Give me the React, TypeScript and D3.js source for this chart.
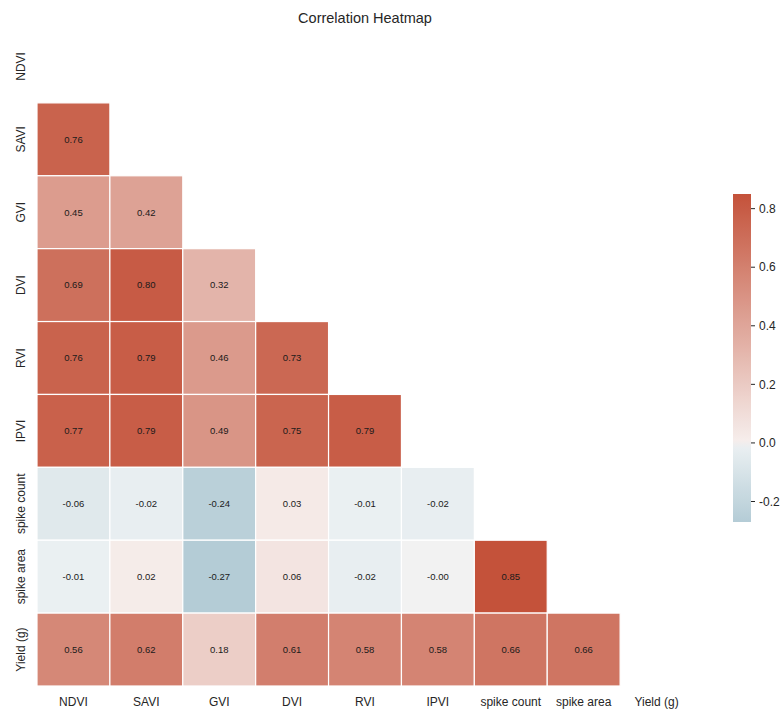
import React from "react";
import * as d3 from "d3";

// Variables of the correlation matrix (rows and columns share the same order)
const variables = ["NDVI", "SAVI", "GVI", "DVI", "RVI", "IPVI", "spike count", "spike area", "Yield (g)"];

// Lower-triangle correlations, one array per row (row i holds columns 0..i-1)
const rowNDVI: number[] = [];
const rowSAVI = [0.76];
const rowGVI = [0.45, 0.42];
const rowDVI = [0.69, 0.80, 0.32];
const rowRVI = [0.76, 0.79, 0.46, 0.73];
const rowIPVI = [0.77, 0.79, 0.49, 0.75, 0.79];
const rowSpikeCount = [-0.06, -0.02, -0.24, 0.03, -0.01, -0.02];
const rowSpikeArea = [-0.01, 0.02, -0.27, 0.06, -0.02, -0.00, 0.85];
const rowYield = [0.56, 0.62, 0.18, 0.61, 0.58, 0.58, 0.66, 0.66];

const rows = [rowNDVI, rowSAVI, rowGVI, rowDVI, rowRVI, rowIPVI, rowSpikeCount, rowSpikeArea, rowYield];

const colorbarTicks = [-0.2, 0.0, 0.2, 0.4, 0.6, 0.8];

const title = "Correlation Heatmap";

// two-decimal label that keeps the sign of negative zero
function fmt(v: number): string {
  const neg = v < 0 || Object.is(v, -0);
  return (neg ? "-" : "") + Math.abs(v).toFixed(2);
}

export default function App() {
  const width = 784;
  const height = 711;
  const gridLeft = 37;
  const gridTop = 30;
  const gridSize = 656;

  const band = d3.scaleBand<string>().domain(variables).range([0, gridSize]).paddingInner(0);

  const cells = rows.flatMap((vals, i) =>
    vals.map((v, j) => ({ row: variables[i], col: variables[j], value: v }))
  );

  const allVals = cells.map((c) => c.value);
  const vmin = d3.min(allVals) as number;
  const vmax = d3.max(allVals) as number;
  const vrange = Math.max(vmax, -vmin);

  // diverging palette centred at zero: blue → light gray → red
  const eps = vrange * 0.008;
  const color = d3
    .scaleLinear<string>()
    .domain([-vrange, -eps, 0, eps, vrange])
    .range(["#3b7d99", "#ebf0f2", "#f2f2f2", "#f6eeec", "#c4523a"])
    .interpolate(d3.interpolateRgb)
    .clamp(true);

  // colorbar
  const cbX = 733;
  const cbW = 18;
  const cbTop = 194;
  const cbBottom = 522;
  const cbScale = d3.scaleLinear().domain([vmin, vmax]).range([cbBottom, cbTop]);
  const stops = d3.range(0, 41).map((k) => {
    const t = k / 40;
    const v = vmin + (vmax - vmin) * t;
    return { offset: t, color: color(v) };
  });

  const font = "'Liberation Sans', Arial, 'DejaVu Sans', sans-serif";
  const textColor = "#262626";

  return (
    <svg width={width} height={height} style={{ display: "block", position: "absolute", left: 0, top: 0 }}>
      <rect width={width} height={height} fill="#ffffff" />
      <text x={gridLeft + gridSize / 2} y={23} textAnchor="middle" fontFamily={font} fontSize={14.5} fill={textColor}>
        {title}
      </text>
      <g transform={`translate(${gridLeft},${gridTop})`}>
        {cells.map((c) => {
          const x = band(c.col) as number;
          const y = band(c.row) as number;
          const bw = band.bandwidth();
          return (
            <g key={`${c.row}-${c.col}`}>
              <rect x={x} y={y} width={bw} height={bw} fill={color(c.value)} stroke="#ffffff" strokeWidth={1.2} />
              <text
                x={x + bw / 2}
                y={y + bw / 2}
                dy="0.35em"
                textAnchor="middle"
                fontFamily={font}
                fontSize={9.5}
                fill="#1a1a1a"
              >
                {fmt(c.value)}
              </text>
            </g>
          );
        })}
        {variables.map((v) => {
          const cy = (band(v) as number) + band.bandwidth() / 2;
          return (
            <text
              key={`y-${v}`}
              transform={`translate(${-12},${cy}) rotate(-90)`}
              textAnchor="middle"
              fontFamily={font}
              fontSize={12}
              fill={textColor}
            >
              {v}
            </text>
          );
        })}
        {variables.map((v) => {
          const cx = (band(v) as number) + band.bandwidth() / 2;
          return (
            <text
              key={`x-${v}`}
              x={cx}
              y={gridSize + 20}
              textAnchor="middle"
              fontFamily={font}
              fontSize={12}
              fill={textColor}
            >
              {v}
            </text>
          );
        })}
      </g>
      <defs>
        <linearGradient id="cbGrad" x1="0" y1="1" x2="0" y2="0">
          {stops.map((s, k) => (
            <stop key={k} offset={s.offset} stopColor={s.color} />
          ))}
        </linearGradient>
      </defs>
      <rect x={cbX} y={cbTop} width={cbW} height={cbBottom - cbTop} fill="url(#cbGrad)" />
      {colorbarTicks.map((t) => {
        const y = cbScale(t);
        return (
          <g key={`cb-${t}`}>
            <line x1={cbX + cbW} x2={cbX + cbW + 4} y1={y} y2={y} stroke={textColor} strokeWidth={1} />
            <text x={cbX + cbW + 8} y={y} dy="0.35em" fontFamily={font} fontSize={12} fill={textColor}>
              {t.toFixed(1)}
            </text>
          </g>
        );
      })}
    </svg>
  );
}
